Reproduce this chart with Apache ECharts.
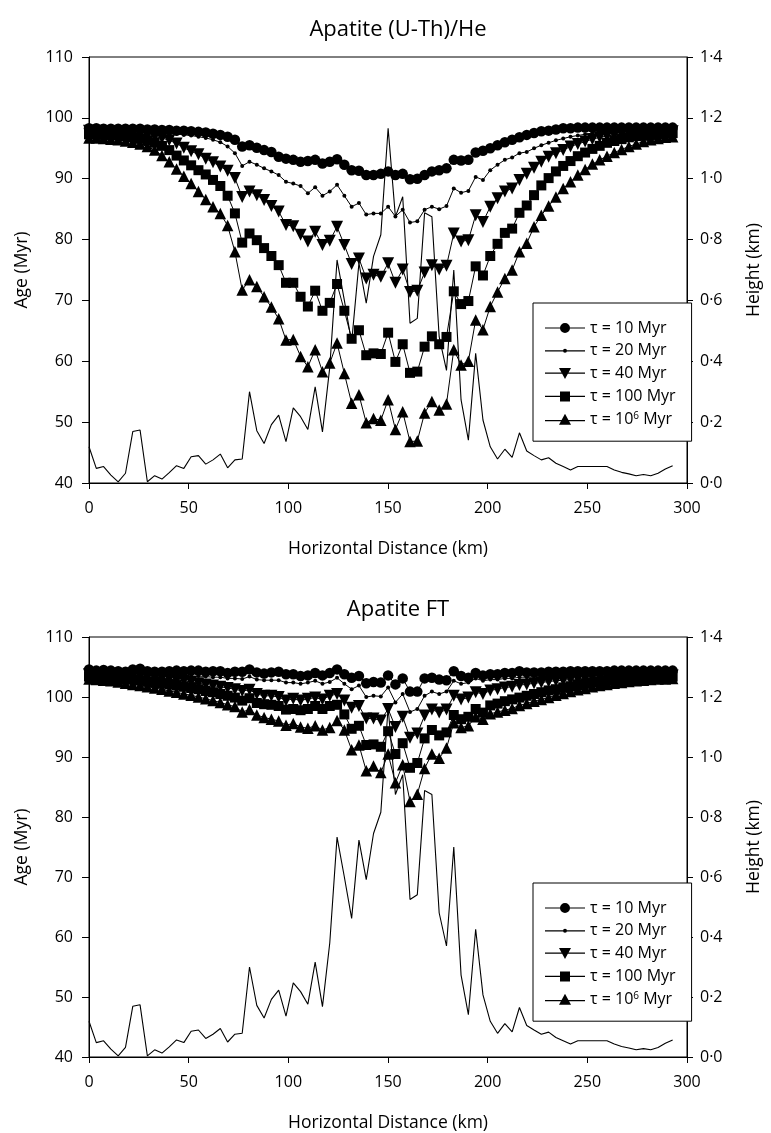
<!DOCTYPE html>
<html>
<head>
<meta charset="utf-8">
<script src="https://cdn.jsdelivr.net/npm/echarts@6/dist/echarts.min.js"></script>
<style>
html,body{margin:0;padding:0;background:#fff;}
#chart{width:771px;height:1133px;}
</style>
</head>
<body>
<div id="chart"></div>
<script>
// Horizontal distance (km) of each model point
const distanceKm = [0, 3.66, 7.32, 10.98, 14.64, 18.3, 21.96, 25.62, 29.28, 32.94, 36.6, 40.26, 43.92, 47.58, 51.24, 54.9, 58.56, 62.22, 65.88, 69.54,
  73.2, 76.86, 80.52, 84.18, 87.84, 91.5, 95.16, 98.82, 102.48, 106.14, 109.8, 113.46, 117.12, 120.78, 124.44, 128.1, 131.76, 135.42, 139.08, 142.74,
  146.4, 150.06, 153.72, 157.38, 161.04, 164.7, 168.36, 172.02, 175.68, 179.34, 183.0, 186.66, 190.32, 193.98, 197.64, 201.3, 204.96, 208.62, 212.28, 215.94,
  219.6, 223.26, 226.92, 230.58, 234.24, 237.9, 241.56, 245.22, 248.88, 252.54, 256.2, 259.86, 263.52, 267.18, 270.84, 274.5, 278.16, 281.82, 285.48, 289.14, 292.8];

// Topography height (km)
const heightKm = [0.119, 0.048, 0.054, 0.026, 0.004, 0.032, 0.169, 0.174, 0.004, 0.024, 0.013, 0.034, 0.057, 0.048, 0.086, 0.090, 0.062, 0.076, 0.095, 0.050,
  0.076, 0.079, 0.300, 0.172, 0.130, 0.192, 0.223, 0.136, 0.247, 0.218, 0.176, 0.316, 0.168, 0.380, 0.733, 0.600, 0.462, 0.723, 0.591, 0.745,
  0.816, 1.166, 0.875, 0.941, 0.525, 0.541, 0.888, 0.875, 0.480, 0.370, 0.700, 0.273, 0.141, 0.426, 0.207, 0.119, 0.079, 0.111, 0.084, 0.165,
  0.105, 0.090, 0.076, 0.083, 0.065, 0.054, 0.043, 0.054, 0.054, 0.054, 0.054, 0.054, 0.043, 0.035, 0.030, 0.024, 0.028, 0.024, 0.032, 0.046, 0.057];

// Apatite (U-Th)/He ages (Myr)
const he10 = [98.3, 98.3, 98.2, 98.2, 98.2, 98.2, 98.2, 98.2, 98.1, 98.1, 98.0, 98.0, 97.9, 97.9, 97.8, 97.7, 97.6, 97.4, 97.2, 96.9,
  96.4, 95.3, 95.5, 95.1, 94.7, 94.4, 93.6, 93.3, 93.1, 92.8, 92.9, 93.1, 92.5, 92.8, 93.2, 92.3, 91.4, 91.3, 90.6, 90.6,
  90.8, 91.2, 90.6, 90.8, 89.9, 90.0, 90.6, 91.2, 91.4, 91.7, 93.1, 93.0, 93.1, 94.3, 94.6, 95.0, 95.5, 96.0, 96.4, 96.8,
  97.2, 97.5, 97.8, 97.9, 98.1, 98.3, 98.3, 98.4, 98.4, 98.4, 98.4, 98.4, 98.4, 98.4, 98.4, 98.4, 98.4, 98.4, 98.4, 98.4, 98.4];
const he20 = [98.1, 98.1, 98.0, 98.0, 98.0, 97.9, 97.9, 97.8, 97.8, 97.7, 97.6, 97.5, 97.4, 97.2, 97.1, 96.9, 96.7, 96.4, 96.0, 95.3,
  94.2, 92.1, 92.8, 92.3, 91.7, 91.2, 90.6, 89.5, 89.2, 88.8, 87.6, 88.6, 87.2, 87.9, 89.0, 87.2, 85.4, 86.0, 84.1, 84.3,
  84.3, 85.4, 83.8, 84.9, 82.8, 83.0, 84.9, 85.4, 85.0, 85.5, 88.4, 87.7, 88.0, 90.3, 89.8, 91.4, 92.3, 93.1, 93.5, 94.2,
  94.4, 95.0, 95.5, 95.9, 96.3, 96.6, 96.9, 97.1, 97.3, 97.5, 97.6, 97.7, 97.8, 97.9, 97.9, 98.0, 98.0, 98.1, 98.1, 98.1, 98.2];
const he40 = [97.9, 97.9, 97.8, 97.8, 97.7, 97.6, 97.5, 97.3, 97.1, 96.9, 96.7, 96.3, 95.8, 95.1, 94.5, 94.0, 93.3, 92.7, 92.0, 91.3,
  90.1, 87.0, 87.9, 87.3, 86.5, 85.5, 84.6, 82.4, 82.2, 80.8, 79.7, 81.3, 79.1, 79.8, 82.1, 79.1, 76.0, 76.9, 73.6, 74.2,
  73.9, 76.1, 72.9, 75.1, 71.4, 71.6, 74.6, 75.8, 75.1, 75.7, 81.0, 79.7, 79.9, 84.0, 82.9, 85.4, 86.8, 87.9, 88.4, 89.8,
  90.8, 91.8, 92.8, 93.6, 94.2, 94.7, 95.3, 95.7, 96.1, 96.5, 96.8, 97.0, 97.2, 97.3, 97.4, 97.5, 97.6, 97.7, 97.7, 97.8, 97.8];
const he100 = [97.3, 97.3, 97.2, 97.2, 97.1, 97.0, 96.8, 96.6, 96.3, 95.9, 95.4, 94.7, 93.8, 93.0, 92.2, 91.4, 90.7, 89.8, 88.8, 87.2,
  84.3, 79.5, 81.0, 79.9, 78.6, 77.3, 75.8, 72.9, 72.9, 70.6, 69.0, 71.6, 68.3, 69.6, 72.7, 68.3, 63.7, 65.1, 61.0, 61.3,
  61.2, 64.7, 59.9, 62.8, 58.1, 58.3, 62.4, 64.1, 62.8, 64.0, 71.5, 69.4, 69.9, 75.6, 74.1, 77.3, 79.3, 81.1, 81.8, 84.4,
  85.6, 87.3, 88.9, 90.1, 91.2, 92.1, 92.9, 93.7, 94.3, 94.9, 95.4, 95.9, 96.2, 96.5, 96.8, 97.0, 97.1, 97.2, 97.3, 97.4, 97.5];
const he1e6 = [96.7, 96.7, 96.6, 96.5, 96.4, 96.2, 96.0, 95.7, 95.3, 94.7, 93.8, 92.8, 91.6, 90.4, 89.2, 87.9, 86.6, 85.4, 84.3, 82.3,
  78.0, 71.7, 73.4, 72.3, 70.6, 68.9, 67.0, 63.5, 63.6, 60.8, 59.1, 61.9, 58.3, 59.7, 63.0, 58.0, 53.1, 54.5, 49.9, 50.6,
  50.3, 53.7, 48.8, 51.7, 46.8, 46.9, 51.5, 53.4, 52.0, 53.0, 61.9, 59.4, 60.0, 66.8, 65.2, 69.0, 71.4, 73.6, 75.0, 78.0,
  79.4, 82.1, 84.0, 85.5, 87.0, 88.4, 89.5, 90.6, 91.5, 92.4, 93.1, 93.7, 94.3, 94.8, 95.3, 95.7, 96.1, 96.4, 96.6, 96.8, 96.9];

// Apatite fission-track ages (Myr)
const ft10 = [104.6, 104.4, 104.5, 104.4, 104.3, 104.2, 104.6, 104.7, 104.3, 104.2, 104.2, 104.3, 104.4, 104.3, 104.4, 104.4, 104.2, 104.3, 104.3, 104.0,
  104.2, 104.2, 104.6, 104.1, 103.9, 104.1, 104.2, 103.8, 103.8, 103.5, 103.6, 104.0, 103.6, 104.0, 104.6, 103.8, 103.2, 103.5, 102.3, 102.5,
  102.4, 103.6, 102.1, 103.1, 100.9, 100.9, 103.1, 103.2, 102.9, 102.8, 104.3, 103.5, 103.2, 104.0, 103.6, 103.8, 103.8, 104.0, 104.0, 104.3,
  104.1, 104.1, 104.1, 104.2, 104.2, 104.2, 104.3, 104.3, 104.3, 104.3, 104.3, 104.3, 104.4, 104.4, 104.4, 104.4, 104.4, 104.4, 104.4, 104.4, 104.4];
const ft20 = [104.1, 104.1, 104.1, 104.0, 104.0, 104.0, 104.0, 103.9, 103.9, 103.8, 103.8, 103.7, 103.7, 103.6, 103.5, 103.5, 103.4, 103.3, 103.3, 103.1,
  103.1, 103.0, 103.4, 102.9, 102.8, 102.8, 102.8, 102.4, 102.4, 102.2, 102.4, 102.7, 102.2, 102.5, 103.2, 102.2, 101.3, 101.9, 100.0, 100.2,
  100.1, 101.6, 99.1, 100.5, 97.5, 98.0, 100.2, 100.9, 100.5, 100.9, 102.7, 102.2, 102.4, 103.1, 102.7, 102.9, 102.9, 103.1, 103.1, 103.3,
  103.3, 103.4, 103.5, 103.5, 103.6, 103.6, 103.7, 103.7, 103.8, 103.8, 103.8, 103.9, 103.9, 103.9, 103.9, 104.0, 104.0, 104.0, 104.0, 104.0, 104.0];
const ft40 = [103.8, 103.8, 103.7, 103.7, 103.6, 103.6, 103.5, 103.4, 103.3, 103.2, 103.1, 103.0, 102.8, 102.7, 102.5, 102.3, 102.1, 101.9, 101.7, 101.5,
  101.3, 101.0, 101.2, 100.5, 100.2, 100.2, 100.0, 99.4, 99.7, 99.4, 99.7, 99.9, 99.6, 100.2, 100.5, 99.4, 98.2, 98.5, 96.4, 96.4,
  96.1, 98.0, 95.0, 96.7, 93.2, 93.9, 96.9, 97.9, 97.4, 97.9, 100.2, 99.6, 99.9, 100.8, 100.5, 101.1, 101.3, 101.6, 101.7, 102.0,
  102.1, 102.3, 102.4, 102.6, 102.7, 102.8, 102.9, 103.0, 103.1, 103.2, 103.2, 103.3, 103.3, 103.4, 103.4, 103.5, 103.5, 103.5, 103.6, 103.6, 103.6];
const ft100 = [103.4, 103.4, 103.3, 103.2, 103.1, 103.0, 102.9, 102.8, 102.6, 102.5, 102.3, 102.1, 101.9, 101.7, 101.5, 101.3, 101.0, 100.8, 100.5, 100.2,
  99.9, 99.4, 99.8, 99.0, 98.8, 98.7, 98.5, 97.9, 98.0, 97.8, 98.0, 98.5, 98.0, 98.5, 98.7, 97.1, 94.7, 95.2, 92.0, 92.1,
  91.7, 94.3, 90.5, 92.3, 88.2, 89.0, 93.1, 94.5, 93.6, 94.1, 97.0, 96.3, 96.7, 98.0, 97.4, 98.6, 98.9, 99.3, 99.6, 99.9,
  100.2, 100.5, 100.8, 101.1, 101.3, 101.6, 101.8, 102.0, 102.2, 102.4, 102.5, 102.7, 102.8, 102.9, 103.0, 103.1, 103.2, 103.2, 103.3, 103.3, 103.4];
const ft1e6 = [103.0, 102.9, 102.8, 102.7, 102.5, 102.3, 102.1, 101.9, 101.7, 101.5, 101.3, 101.0, 100.8, 100.5, 100.3, 100.0, 99.7, 99.4, 99.1, 98.7,
  98.4, 97.5, 97.9, 97.0, 96.6, 96.3, 96.0, 95.3, 95.6, 95.0, 94.8, 95.2, 94.5, 94.9, 96.1, 94.5, 91.2, 92.0, 87.7, 88.5,
  87.4, 90.5, 85.7, 88.7, 82.6, 83.8, 88.1, 90.5, 89.8, 91.5, 95.7, 94.9, 95.2, 96.7, 96.3, 97.2, 97.5, 97.8, 98.1, 98.6,
  98.9, 99.3, 99.6, 99.9, 100.3, 100.6, 100.9, 101.2, 101.4, 101.7, 101.9, 102.1, 102.3, 102.4, 102.6, 102.7, 102.8, 102.9, 103.0, 103.0, 103.1];

const seriesNames = ['τ = 10 Myr', 'τ = 20 Myr', 'τ = 40 Myr', 'τ = 100 Myr', 'τ = 10⁶ Myr'];
const panelTitles = ['Apatite (U-Th)/He', 'Apatite FT'];
const xTitle = 'Horizontal Distance (km)';
const yLeftTitle = 'Age (Myr)';
const yRightTitle = 'Height (km)';

[he10, he20, he40, he100, he1e6, ft10, ft20, ft40, ft100, ft1e6, heightKm].forEach(function (a) {
  if (a.length !== distanceKm.length) throw new Error('length mismatch ' + a.length);
});

const FONT = 'Open Sans';
const chart = echarts.init(document.getElementById('chart'));

const markerStyles = [
  { symbol: 'circle', size: 10.5, rotate: 0 },
  { symbol: 'circle', size: 4, rotate: 0 },
  { symbol: 'triangle', size: 12, rotate: 180 },
  { symbol: 'rect', size: 10, rotate: 0 },
  { symbol: 'triangle', size: 11.5, rotate: 0 }
];
const legendIcons = [
  'path://M0,4.4L40,4.4L40,5.6L0,5.6Z M15,5A5,5,0,1,1,25,5A5,5,0,1,1,15,5Z',
  'path://M0,1.4L40,1.4L40,2.6L0,2.6Z M18,2A2,2,0,1,1,22,2A2,2,0,1,1,18,2Z',
  'path://M0,4.4L40,4.4L40,5.6L0,5.6Z M14,0L26,0L20,11Z',
  'path://M0,4.4L40,4.4L40,5.6L0,5.6Z M15,0L25,0L25,10L15,10Z',
  'path://M0,6.4L40,6.4L40,7.6L0,7.6Z M20,0L26,11L14,11Z'
];

const panels = [
  { top: 57, ages: [he10, he20, he40, he100, he1e6], legendTop: 303 },
  { top: 637, ages: [ft10, ft20, ft40, ft100, ft1e6], legendTop: 883 }
];

const grids = [], xAxes = [], yAxes = [], series = [], legends = [], titles = [];
const axisLineStyle = { lineStyle: { color: '#000', width: 1 } };
const labelStyle = { color: '#000', fontSize: 16, fontFamily: FONT };
const nameStyle = { color: '#000', fontSize: 17.5, fontFamily: FONT };

panels.forEach(function (p, g) {
  grids.push({ left: 89, top: p.top, width: 608, height: 426, show: true, borderColor: '#000', borderWidth: 1, backgroundColor: 'transparent' });
  titles.push({ text: panelTitles[g], left: 393, top: p.top - 43, textAlign: 'center',
    textStyle: { color: '#000', fontSize: 22, fontWeight: 'normal', fontFamily: FONT } });
  xAxes.push({ type: 'value', gridIndex: g, min: 0, max: 300, interval: 50,
    axisLine: axisLineStyle, axisTick: { inside: false, length: 6, lineStyle: { color: '#000' } },
    axisLabel: Object.assign({ margin: 17 }, labelStyle), splitLine: { show: false },
    name: xTitle, nameLocation: 'middle', nameGap: 57, nameTextStyle: nameStyle });
  yAxes.push({ type: 'value', gridIndex: g, position: 'left', min: 40, max: 110, interval: 10,
    axisLine: { show: true, lineStyle: { color: '#000' } }, axisTick: { show: true, inside: false, length: 7, lineStyle: { color: '#000' } },
    axisLabel: Object.assign({ margin: 16 }, labelStyle), splitLine: { show: false },
    name: yLeftTitle, nameLocation: 'middle', nameRotate: 90, nameGap: 58, nameTextStyle: nameStyle });
  yAxes.push({ type: 'value', gridIndex: g, position: 'right', min: 0, max: 1.4, interval: 0.2,
    axisLine: { show: true, lineStyle: { color: '#000' } }, axisTick: { show: true, inside: false, length: 6, lineStyle: { color: '#000' } },
    axisLabel: Object.assign({ margin: 13, formatter: function (v) { return v.toFixed(1).replace('.', '·'); } }, labelStyle),
    splitLine: { show: false },
    name: yRightTitle, nameLocation: 'middle', nameRotate: 90, nameGap: 58, nameTextStyle: nameStyle });

  series.push({ type: 'line', name: 'height' + g, xAxisIndex: g, yAxisIndex: g * 2 + 1,
    data: distanceKm.map(function (x, i) { return [x, heightKm[i]]; }),
    symbol: 'none', lineStyle: { color: '#000', width: 1.1 }, itemStyle: { color: '#000' }, z: 1, silent: true });

  p.ages.forEach(function (arr, k) {
    const m = markerStyles[k];
    series.push({ type: 'line', name: seriesNames[k], xAxisIndex: g, yAxisIndex: g * 2,
      data: distanceKm.map(function (x, i) { return [x, arr[i]]; }),
      symbol: m.symbol, symbolSize: m.size, symbolRotate: m.rotate,
      itemStyle: { color: '#000', borderWidth: 0 }, lineStyle: { color: '#000', width: 1 },
      z: 2 + (4 - k) });
  });

  legends.push({ orient: 'vertical', left: 533, top: p.legendTop,
    data: seriesNames.map(function (n, k) { return { name: n, icon: legendIcons[k] }; }),
    itemWidth: 40, itemHeight: 12, itemGap: 6.8, padding: [17, 16, 14, 12],
    borderColor: '#000', borderWidth: 1, backgroundColor: '#fff', selectedMode: false,
    formatter: function (name) {
      if (name === 'τ = 10⁶ Myr') return '{t|τ = 10}{s|6}{t| Myr}';
      return '{t|' + name + '}';
    },
    textStyle: { color: '#000', fontSize: 16, fontFamily: FONT,
      rich: { t: { fontSize: 16, fontFamily: FONT, color: '#000' },
              s: { fontSize: 10, verticalAlign: 'top', fontFamily: FONT, color: '#000' } } } });
});

chart.setOption({
  animation: false,
  backgroundColor: '#fff',
  title: titles,
  grid: grids,
  xAxis: xAxes,
  yAxis: yAxes,
  legend: legends,
  series: series
});
</script>
</body>
</html>
